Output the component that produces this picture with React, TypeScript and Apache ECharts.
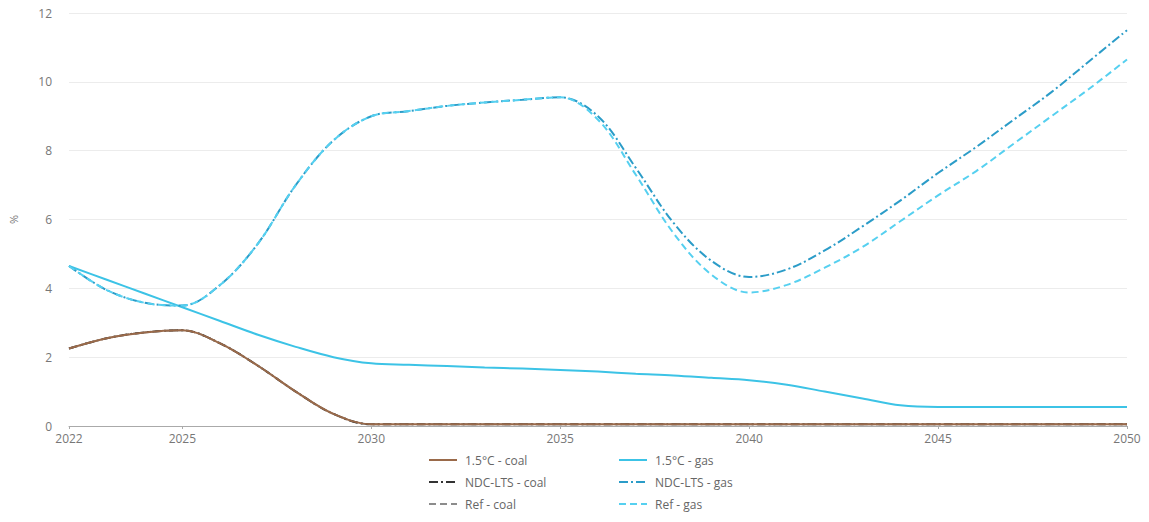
import React, { useEffect, useRef } from "react";
import * as echarts from "echarts";

const years = ["2022","2023","2024","2025","2026","2027","2028","2029","2030","2031","2032","2033","2034","2035","2036","2037","2038","2039","2040","2041","2042","2043","2044","2045","2046","2047","2048","2049","2050"];

const coal15 = [2.25,2.55,2.72,2.78,2.4,1.75,1.0,0.35,0.05,0.05,0.05,0.05,0.05,0.05,0.05,0.05,0.05,0.05,0.05,0.05,0.05,0.05,0.05,0.05,0.05,0.05,0.05,0.05,0.05];
const coalNdc = [2.25,2.55,2.72,2.78,2.4,1.75,1.0,0.35,0.05,0.05,0.05,0.05,0.05,0.05,0.05,0.05,0.05,0.05,0.05,0.05,0.05,0.05,0.05,0.05,0.05,0.05,0.05,0.05,0.05];
const coalRef = [2.25,2.55,2.72,2.78,2.4,1.75,1.0,0.35,0.05,0.05,0.05,0.05,0.05,0.05,0.05,0.05,0.05,0.05,0.05,0.05,0.05,0.05,0.05,0.05,0.05,0.05,0.05,0.05,0.05];
const gas15 = [4.65,4.25,3.85,3.45,3.05,2.65,2.3,2.0,1.82,1.78,1.74,1.7,1.67,1.63,1.58,1.52,1.47,1.4,1.33,1.2,1.0,0.8,0.6,0.55,0.55,0.55,0.55,0.55,0.55];
const gasNdc = [4.65,3.95,3.58,3.5,4.1,5.3,7.0,8.3,9.0,9.15,9.3,9.4,9.48,9.55,9.0,7.5,5.9,4.8,4.33,4.55,5.1,5.8,6.55,7.35,8.1,8.9,9.7,10.6,11.5];
const gasRef = [4.65,3.95,3.58,3.5,4.1,5.3,7.0,8.3,9.0,9.15,9.3,9.4,9.48,9.55,8.9,7.3,5.6,4.4,3.88,4.1,4.6,5.2,5.95,6.7,7.4,8.2,9.0,9.8,10.65];

const yTicks = [0, 2, 4, 6, 8, 10, 12];

const names = ["1.5°C - coal", "NDC-LTS - coal", "Ref - coal", "1.5°C - gas", "NDC-LTS - gas", "Ref - gas"];

export default function App() {
  const ref = useRef<HTMLDivElement>(null);
  useEffect(() => {
    if (!ref.current) return;
    const chart = echarts.init(ref.current, null, { renderer: "svg" });
    const font = "'Open Sans', 'DejaVu Sans', sans-serif";
    const mk = (name: string, data: number[], color: string, type: any, z: number) => ({
      name,
      type: "line",
      data,
      smooth: 0.35,
      symbol: "none",
      z,
      lineStyle: { color, width: 2, type },
      itemStyle: { color },
    });
    const dashDot = [9, 3, 2, 3];
    const dashed = [7, 4];
    const legendBase = {
      orient: "vertical",
      top: 449,
      itemWidth: 28,
      itemHeight: 14,
      itemGap: 10,
      itemStyle: { opacity: 0 },
      textStyle: { color: "#666", fontSize: 12, fontFamily: font, padding: [0, 0, 0, 3] },
    };
    chart.setOption({
      animation: false,
      textStyle: { fontFamily: font },
      grid: { left: 64, right: 22, top: 13, bottom: 96, containLabel: false },
      legend: [
        { ...legendBase, left: 423, data: names.slice(0, 3) },
        { ...legendBase, left: 613, data: names.slice(3) },
      ],
      xAxis: {
        type: "category",
        data: years,
        boundaryGap: false,
        axisLine: { lineStyle: { color: "#aaa" } },
        axisTick: {
          show: true,
          length: 3,
          interval: (i: number, v: string) => v === "2022" || Number(v) % 5 === 0,
          lineStyle: { color: "#aaa" },
        },
        axisLabel: {
          color: "#777",
          fontSize: 12,
          margin: 6,
          interval: (i: number, v: string) => v === "2022" || Number(v) % 5 === 0,
        },
      },
      yAxis: {
        type: "value",
        min: yTicks[0],
        max: yTicks[yTicks.length - 1],
        interval: 2,
        name: "%",
        nameLocation: "middle",
        nameGap: 50,
        nameTextStyle: { color: "#777", fontSize: 11 },
        axisLine: { show: false },
        axisTick: { show: false },
        axisLabel: { color: "#777", fontSize: 12, margin: 17 },
        splitLine: { lineStyle: { color: "#ececec" } },
      },
      series: [
        mk(names[2], coalRef, "#8c8c8c", dashed, 2),
        mk(names[1], coalNdc, "#333333", dashDot, 3),
        mk(names[0], coal15, "#9a6a4a", "solid", 4),
        mk(names[3], gas15, "#3cc3e6", "solid", 5),
        mk(names[4], gasNdc, "#2b9cc8", dashDot, 6),
        mk(names[5], gasRef, "#56d0f0", dashed, 7),
      ],
    });
    return () => chart.dispose();
  }, []);
  return <div ref={ref} style={{ width: 1149, height: 522, position: "absolute", left: 0, top: 0 }} />;
}
